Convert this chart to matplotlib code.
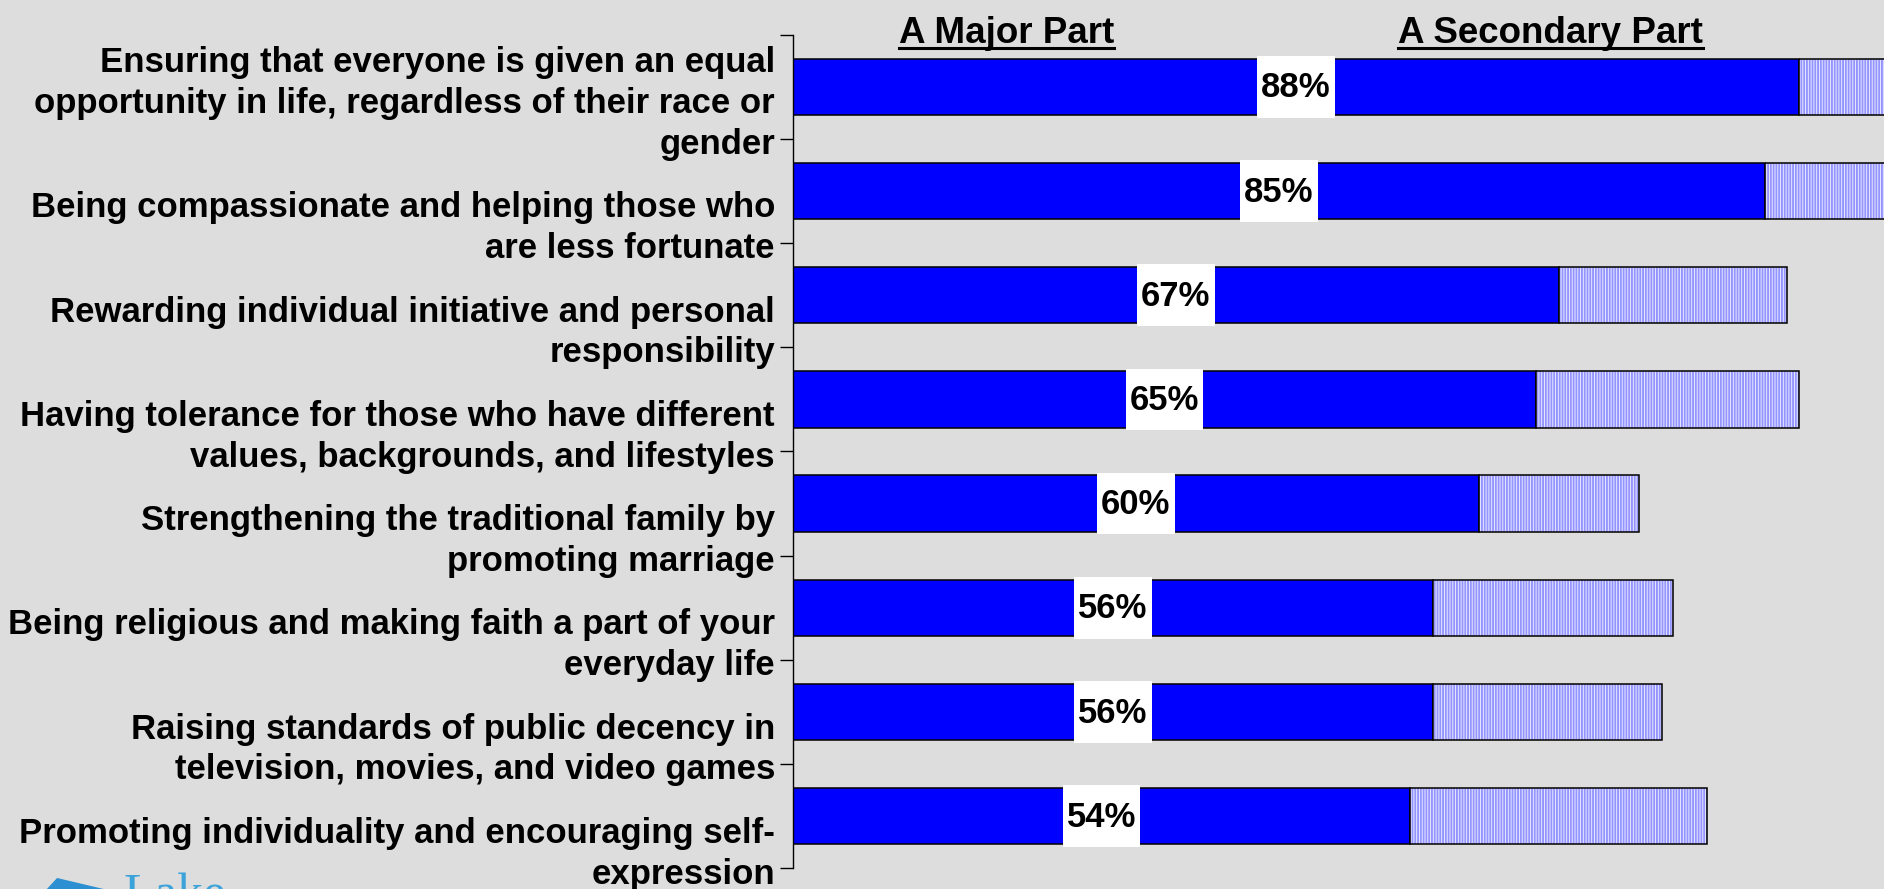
import matplotlib
matplotlib.use("Agg")
import matplotlib.pyplot as plt
from matplotlib.lines import Line2D
from matplotlib.patches import Polygon
import numpy as np

# data
labels = [
    "Ensuring that everyone is given an equal\nopportunity in life, regardless of their race or\ngender",
    "Being compassionate and helping those who\nare less fortunate",
    "Rewarding individual initiative and personal\nresponsibility",
    "Having tolerance for those who have different\nvalues, backgrounds, and lifestyles",
    "Strengthening the traditional family by\npromoting marriage",
    "Being religious and making faith a part of your\neveryday life",
    "Raising standards of public decency in\ntelevision, movies, and video games",
    "Promoting individuality and encouraging self-\nexpression",
]
major = [88, 85, 67, 65, 60, 56, 56, 54]
secondary = [9, 12, 20, 23, 14, 21, 20, 26]
headers = ["A Major Part", "A Secondary Part"]

bg = "#dddddd"
fs = 25
plt.rcParams["font.family"] = ["Liberation Sans", "DejaVu Sans"]
plt.rcParams["font.weight"] = "bold"
plt.rcParams["hatch.color"] = "#9494ff"
plt.rcParams["hatch.linewidth"] = 1.35

fig = plt.figure(figsize=(18.84, 8.89), dpi=100, facecolor=bg)
ax = fig.add_axes([0.4209, 0.0233, 0.5791, 0.9377])
ax.set_facecolor(bg)

n = len(labels)
y = np.arange(n)
h = 0.54

ax.barh(y, major, height=h, color="#0000ff", edgecolor="black", linewidth=1.1)
# hatched part: fill + vertical lines, then outline on top
ax.barh(y, secondary, left=major, height=h, color="#eeeeff", linewidth=0, hatch="||||||")
ax.barh(y, secondary, left=major, height=h, fill=False, edgecolor="black", linewidth=1.1)

# white boxes behind the value labels
box_w = 6.8
ax.barh(y, box_w, left=np.array(major) / 2 - box_w / 2, height=0.59, color="white",
        linewidth=0, zorder=3)
for i, v in enumerate(major):
    ax.text(v / 2, i + 0.01, f"{v}%", ha="center", va="center", fontsize=fs,
            fontweight="bold", color="black", zorder=4)

ax.set_xlim(0, 95.45)
ax.set_ylim(n - 0.5, -0.5)
ax.set_xticks([])
ax.set_yticks(np.arange(-0.5, n, 1))
ax.set_yticklabels([])
ax.tick_params(axis="y", length=9.4, width=1, direction="out", color="black")
for s in ["top", "right", "bottom"]:
    ax.spines[s].set_visible(False)
ax.spines["left"].set_linewidth(1)

# category labels, last line centred on the tick below the category
for i, lab in enumerate(labels):
    ax.annotate(lab, xy=(0, i + 0.5), xycoords=("axes fraction", "data"),
                xytext=(-13, -16), textcoords="offset points",
                ha="right", va="bottom", fontsize=fs, fontweight="bold",
                linespacing=1.3, annotation_clip=False)

# underlined column headers
hx = [18.7, 66.3]
htexts = []
for x, t in zip(hx, headers):
    htexts.append(fig.text(ax.transData.transform((x, 0))[0] / fig.bbox.width, 0.9516, t,
                           ha="center", va="baseline", fontsize=26.5, fontweight="bold"))
fig.canvas.draw()
r = fig.canvas.get_renderer()
for t in htexts:
    bb = t.get_window_extent(r).transformed(fig.transFigure.inverted())
    fig.add_artist(Line2D([bb.x0, bb.x1], [0.9465, 0.9465], color="black", linewidth=2.2))

# bits of the logo, cut off at the bottom edge
fig.add_artist(Polygon([[0.0249, 0.0], [0.0303, 0.0124], [0.055, 0.0]], closed=True,
                       facecolor="#2b8fd1", edgecolor="none"))
fig.text(0.0653, -0.022, "Lake", fontsize=37, color="#3ba2da", family="Liberation Serif",
         fontweight="normal", ha="left", va="baseline")

fig.savefig("out.png", dpi=100, facecolor=bg)
